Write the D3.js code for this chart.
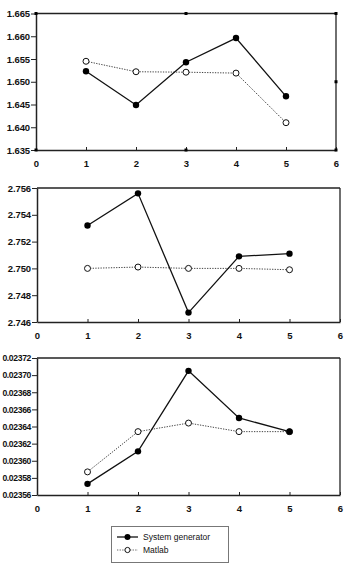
<!DOCTYPE html>
<html><head><meta charset="utf-8">
<script src="https://cdn.jsdelivr.net/npm/d3@7/dist/d3.min.js"></script>
<style>
html,body{margin:0;padding:0;background:#fff;}
svg{display:block;}
</style></head>
<body>
<script>
const xValues = [1, 2, 3, 4, 5];
const xTicks = [0, 1, 2, 3, 4, 5, 6];
const seriesNames = ["System generator", "Matlab"];

const sg1 = [1.6523, 1.6449, 1.6543, 1.6596, 1.6468];
const ml1 = [1.6545, 1.6522, 1.6521, 1.6519, 1.6410];
const yTicks1 = [1.635, 1.640, 1.645, 1.650, 1.655, 1.660, 1.665];

const sg2 = [2.7532, 2.7556, 2.7467, 2.7509, 2.7511];
const ml2 = [2.7500, 2.7501, 2.7500, 2.7500, 2.7499];
const yTicks2 = [2.746, 2.748, 2.750, 2.752, 2.754, 2.756];

const sg3 = [0.023573, 0.023611, 0.023705, 0.023650, 0.023634];
const ml3 = [0.023587, 0.023634, 0.023644, 0.023634, 0.023634];
const yTicks3 = [0.02356, 0.02358, 0.02360, 0.02362, 0.02364, 0.02366, 0.02368, 0.02370, 0.02372];

const W = 347, H = 570;
const svg = d3.select("body").append("svg").attr("width", W).attr("height", H);

const panels = [
  {sg: sg1, ml: ml1, ticks: yTicks1, fmt: ".3f", x0: 36, x1: 336, top: 13.5, bot: 150, handles: true, fs: 9.5, ls: -0.1},
  {sg: sg2, ml: ml2, ticks: yTicks2, fmt: ".3f", x0: 37, x1: 340, top: 188, bot: 322, handles: false, fs: 9.5, ls: -0.1},
  {sg: sg3, ml: ml3, ticks: yTicks3, fmt: ".5f", x0: 37, x1: 340, top: 358, bot: 495, handles: false, fs: 8.6, ls: -0.35}
];

const axisColor = "#222";
const font = "'Liberation Sans', Arial, sans-serif";

panels.forEach(p => {
  const x = d3.scaleLinear().domain([0, 6]).range([p.x0, p.x1]);
  const y = d3.scaleLinear().domain([p.ticks[0], p.ticks[p.ticks.length - 1]]).range([p.bot, p.top]);
  const g = svg.append("g");

  // frame (top and right)
  g.append("line").attr("x1", x(0)).attr("x2", x(6)).attr("y1", y.range()[1]).attr("y2", y.range()[1])
    .attr("stroke", axisColor).attr("stroke-width", 1.3);
  g.append("line").attr("x1", x(6)).attr("x2", x(6)).attr("y1", p.top).attr("y2", p.bot)
    .attr("stroke", axisColor).attr("stroke-width", 1.3);

  // y axis
  const ya = g.append("g").attr("transform", `translate(${x(0)},0)`)
    .call(d3.axisLeft(y).tickValues(p.ticks).tickFormat(d3.format(p.fmt)).tickSize(5).tickSizeOuter(0));
  ya.select(".domain").attr("stroke", axisColor).attr("stroke-width", 1.5);
  ya.selectAll(".tick line").attr("stroke", axisColor);
  ya.selectAll("text").attr("font-family", font).attr("font-weight", "bold").attr("font-size", p.fs)
    .attr("fill", "#111").attr("x", -6).attr("letter-spacing", p.ls);

  // x axis
  const xa = g.append("g").attr("transform", `translate(0,${p.bot})`)
    .call(d3.axisBottom(x).tickValues(xTicks).tickFormat(d3.format("d")).tickSize(-3).tickSizeOuter(0));
  xa.select(".domain").attr("stroke", axisColor).attr("stroke-width", 1.3);
  xa.selectAll(".tick line").attr("stroke", axisColor);
  xa.selectAll("text").attr("font-family", font).attr("font-weight", "bold").attr("font-size", 9.5)
    .attr("fill", "#111").attr("y", 10);

  if (p.handles) {
    const hx = [0, 3, 6], hy = [y.domain()[0], (y.domain()[0] + y.domain()[1]) / 2, y.domain()[1]];
    const pts = [];
    hx.forEach(a => hy.forEach(b => { if (!(a === 3 && b === hy[1]) && !(a === 0 && b === hy[1])) pts.push([a, b]); }));
    g.selectAll(".h").data(pts).enter().append("rect")
      .attr("x", d => x(d[0]) - 1.5).attr("y", d => y(d[1]) - 1.5).attr("width", 3).attr("height", 3).attr("fill", "#000");
  }

  const line = d3.line().x((d, i) => x(xValues[i])).y(d => y(d));

  // Matlab dotted
  g.append("path").datum(p.ml).attr("d", line).attr("fill", "none")
    .attr("stroke", "#444").attr("stroke-width", 1).attr("stroke-dasharray", "1.3,1.3");
  // System generator solid
  g.append("path").datum(p.sg).attr("d", line).attr("fill", "none")
    .attr("stroke", "#111").attr("stroke-width", 1.3);

  g.selectAll(".mo").data(p.ml).enter().append("circle")
    .attr("cx", (d, i) => x(xValues[i])).attr("cy", d => y(d)).attr("r", 3)
    .attr("fill", "#fff").attr("stroke", "#111").attr("stroke-width", 1);
  g.selectAll(".ms").data(p.sg).enter().append("circle")
    .attr("cx", (d, i) => x(xValues[i])).attr("cy", d => y(d)).attr("r", 3.2)
    .attr("fill", "#000");
});

// legend
const lg = svg.append("g");
lg.append("rect").attr("x", 111.5).attr("y", 526.5).attr("width", 117).attr("height", 36)
  .attr("fill", "#fff").attr("stroke", "#777").attr("stroke-width", 1);
const ly = [537, 550];
seriesNames.forEach((name, i) => {
  const row = lg.append("g");
  row.append("line").attr("x1", 117).attr("x2", 138).attr("y1", ly[i]).attr("y2", ly[i])
    .attr("stroke", i === 0 ? "#111" : "#666").attr("stroke-width", i === 0 ? 1.3 : 1)
    .attr("stroke-dasharray", i === 0 ? null : "1.3,1.3");
  row.append("circle").attr("cx", 127.5).attr("cy", ly[i]).attr("r", i === 0 ? 3 : 2.6)
    .attr("fill", i === 0 ? "#000" : "#fff").attr("stroke", "#111").attr("stroke-width", i === 0 ? 0 : 1);
  row.append("text").attr("x", 143).attr("y", ly[i] + 3).text(name)
    .attr("font-family", font).attr("font-size", 8.5).attr("fill", "#111");
});
</script>
</body></html>
